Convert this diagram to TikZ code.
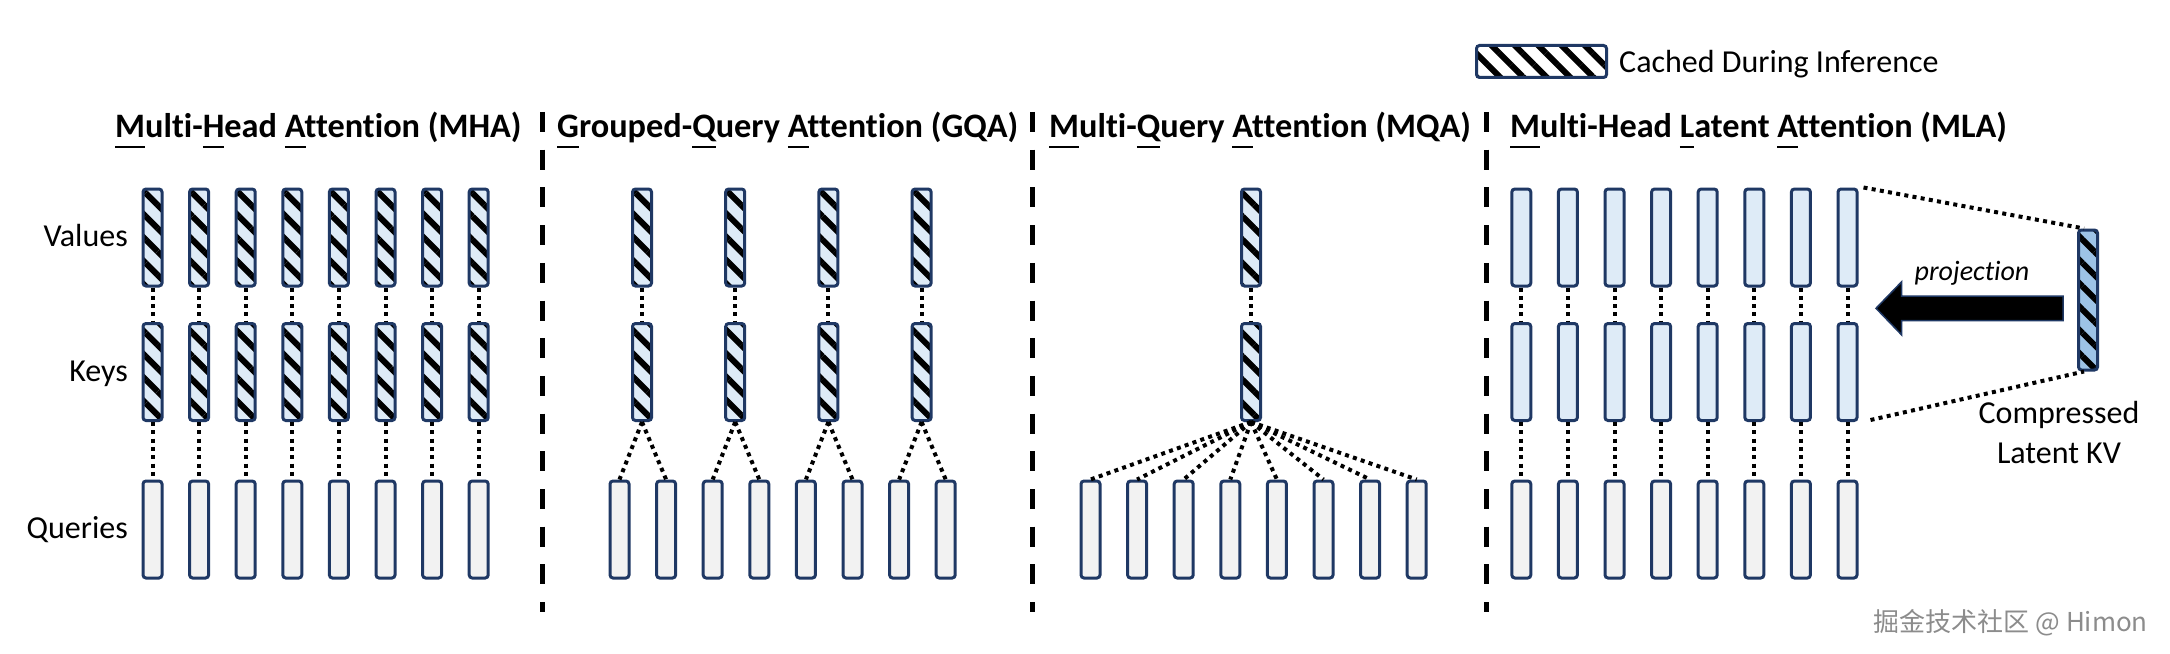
\documentclass[tikz,border=0pt]{standalone}
\usepackage{fontspec}
\setmainfont{Carlito}[Ligatures={NoCommon,NoContextual}]
\newfontfamily\cjkfont{Noto Sans CJK SC}
\usetikzlibrary{patterns.meta}
\definecolor{navy}{HTML}{1F3864}
\definecolor{kvblue}{HTML}{DEEBF7}
\definecolor{qgrey}{HTML}{F2F2F2}
\definecolor{latentblue}{HTML}{9DC3E6}
\definecolor{wmgrey}{HTML}{8C8C8C}
\newcommand\fl[1]{\setbox0\hbox{#1}\rlap{\rule[-9.8bp]{\wd0}{2.3bp}}#1}
\tikzset{
  headbox/.style={rectangle, rounded corners=3bp, minimum width=19bp, minimum height=97bp,
    line width=3bp, draw=navy, inner sep=0pt},
  qbox/.style={headbox, fill=qgrey},
  plainkv/.style={headbox, fill=kvblue},
  hatchfill/.style={preaction={fill=#1}, preaction={pattern={Lines[angle=-45,distance=16.5bp,line width=6bp]}, pattern color=black}},
  cachedkv/.style={headbox, hatchfill=kvblue},
  link/.style={line width=4bp, dash pattern=on 4bp off 4.3bp},
  divider/.style={line width=5bp, dash pattern=on 20bp off 17.7bp},
  title/.style={font=\fontsize{34.3bp}{41bp}\selectfont\bfseries, anchor=base west, inner sep=0pt},
  lbl/.style={font=\fontsize{32bp}{38bp}\selectfont, anchor=base east, inner sep=0pt},
  txt/.style={font=\fontsize{32bp}{38bp}\selectfont, inner sep=0pt},
}
\begin{document}
\begin{tikzpicture}[x=1bp, y=-1bp]
\useasboundingbox (0,0) rectangle (2170,654);
\fill[white] (0,0) rectangle (2170,654);

% legend
\node[headbox, minimum width=130bp, minimum height=32bp, hatchfill=white] (legendbox) at (1541.5,61.5) {};
\node[txt, anchor=base west] (legendtxt) at (1619,73) {Cached During Inference};

% titles
\node[title] (tmha) at (115,138) {\fl{M}ulti-\fl{H}ead \fl{A}ttention (MHA)};
\node[title] (tgqa) at (557,138) {\fl{G}rouped-\fl{Q}uery \fl{A}ttention (GQA)};
\node[title] (tmqa) at (1049,138) {\fl{M}ulti-\fl{Q}uery \fl{A}ttention (MQA)};
\node[title] (tmla) at (1510,138) {\fl{M}ulti-Head \fl{L}atent \fl{A}ttention (MLA)};

% row labels
\node[lbl] (lv) at (128,246) {Values};
\node[lbl] (lk) at (128,381) {Keys};
\node[lbl] (lq) at (128,538) {Queries};

% dividers
\draw[divider] (542,112) -- (542,612);
\draw[divider] (1032,112) -- (1032,612);
\draw[divider] (1486,112) -- (1486,612);

% MHA
\foreach \i in {1,...,8} {
  \pgfmathsetmacro\x{152.5+46.6*(\i-1)}
  \node[cachedkv] (mhav\i) at (\x,237.5) {};
  \node[cachedkv] (mhak\i) at (\x,372) {};
  \node[qbox] (mhaq\i) at (\x,529.5) {};
  \draw[link] (mhav\i.south) -- (mhak\i.north);
  \draw[link] (mhak\i.south) -- (mhaq\i.north);
}

% GQA
\foreach \j in {1,...,4} {
  \pgfmathsetmacro\x{642+93.2*(\j-1)}
  \node[cachedkv] (gqav\j) at (\x,237.5) {};
  \node[cachedkv] (gqak\j) at (\x,372) {};
  \draw[link] (gqav\j.south) -- (gqak\j.north);
}
\foreach \i in {1,...,8} {
  \pgfmathsetmacro\x{619.5+46.6*(\i-1)}
  \pgfmathtruncatemacro\j{(\i+1)/2}
  \node[qbox] (gqaq\i) at (\x,529.5) {};
  \draw[link] (gqak\j.south) -- (gqaq\i.north);
}

% MQA
\node[cachedkv] (mqav) at (1251,237.5) {};
\node[cachedkv] (mqak) at (1251,372) {};
\draw[link] (mqav.south) -- (mqak.north);
\foreach \i in {1,...,8} {
  \pgfmathsetmacro\x{1090.5+46.6*(\i-1)}
  \node[qbox] (mqaq\i) at (\x,529.5) {};
  \draw[link] (mqak.south) -- (mqaq\i.north);
}

% MLA
\foreach \i in {1,...,8} {
  \pgfmathsetmacro\x{1521.3+46.6*(\i-1)}
  \node[plainkv] (mlav\i) at (\x,237.5) {};
  \node[plainkv] (mlak\i) at (\x,372) {};
  \node[qbox] (mlaq\i) at (\x,529.5) {};
  \draw[link] (mlav\i.south) -- (mlak\i.north);
  \draw[link] (mlak\i.south) -- (mlaq\i.north);
}

% latent KV
\node[headbox, minimum height=140bp, hatchfill=latentblue] (latent) at (2088,300) {};
\draw[link] ([xshift=5bp]mlav8.north east) -- ([xshift=-4bp]latent.north);
\draw[link] ([xshift=12bp,yshift=2bp]mlak8.south east) -- ([xshift=-4bp]latent.south);

% projection arrow
\fill[black, draw=navy, line width=1.5bp] (1876,308.3) -- (1901.7,281.7) -- (1901.7,296) -- (2063,296)
  -- (2063,320.7) -- (1901.7,320.7) -- (1901.7,335) -- cycle;
\node[font=\fontsize{28bp}{33bp}\selectfont\itshape, anchor=base, inner sep=0pt] (proj) at (1972,280) {projection};

\node[txt, anchor=base] (lat1) at (2059,423) {Compressed};
\node[txt, anchor=base] (lat2) at (2059,463) {Latent KV};

% watermark
\node[font=\fontsize{26bp}{31bp}\selectfont\cjkfont, text=wmgrey, anchor=east, inner sep=0pt] (wm) at (2148,623) {掘金技术社区 @ Himon};
\end{tikzpicture}
\end{document}
